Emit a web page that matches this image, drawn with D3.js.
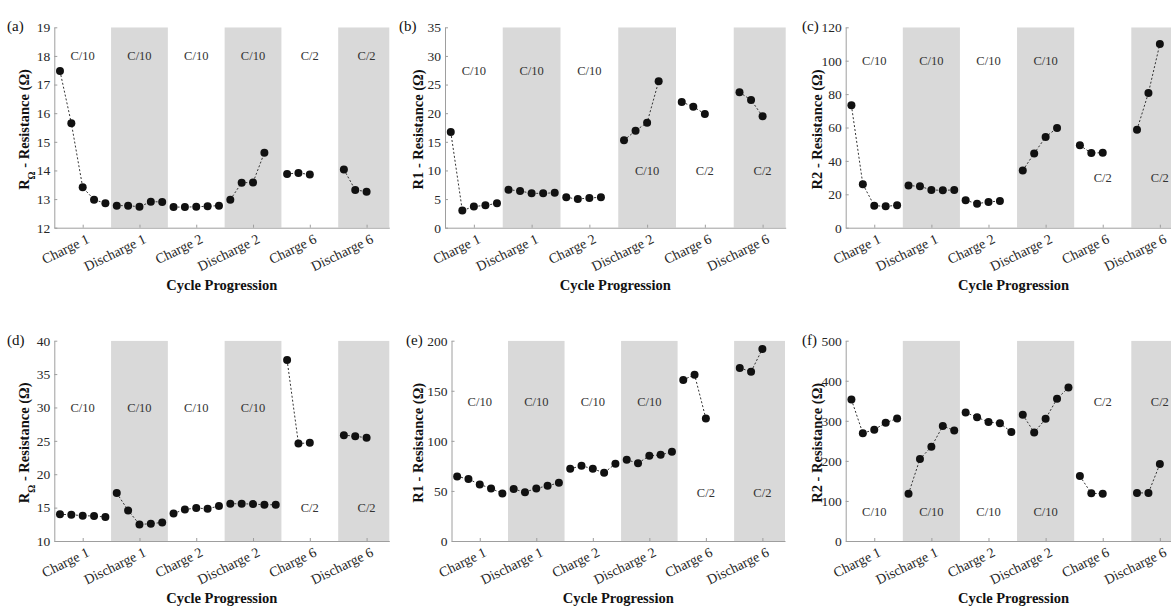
<!DOCTYPE html>
<html>
<head>
<meta charset="utf-8">
<script src="https://cdn.jsdelivr.net/npm/d3@7"></script>
<style>
  body { margin: 0; background: #fff; }
  svg { display: block; }
</style>
</head>
<body>
<script>
// categories along the x axis
const categories = ['Charge 1', 'Discharge 1', 'Charge 2', 'Discharge 2', 'Charge 6', 'Discharge 6'];
const rateLabels = ['C/10', 'C/10', 'C/10', 'C/10', 'C/2', 'C/2'];

// y tick values for each panel
const ticksA = [12, 13, 14, 15, 16, 17, 18, 19];
const ticksB = [0, 5, 10, 15, 20, 25, 30, 35];
const ticksC = [0, 20, 40, 60, 80, 100, 120];
const ticksD = [10, 15, 20, 25, 30, 35, 40];
const ticksE = [0, 50, 100, 150, 200];
const ticksF = [0, 100, 200, 300, 400, 500];

// resistance values, one list per cycle step
const valuesA = [
  [17.47, 15.65, 13.41, 12.98, 12.85],
  [12.77, 12.77, 12.73, 12.91, 12.90],
  [12.72, 12.72, 12.73, 12.75, 12.77],
  [12.98, 13.57, 13.58, 14.62],
  [13.88, 13.91, 13.86],
  [14.03, 13.32, 13.26]
];
const valuesB = [
  [16.7, 3.0, 3.7, 3.9, 4.25],
  [6.64, 6.41, 6.0, 6.0, 6.1],
  [5.3, 5.0, 5.2, 5.3],
  [15.26, 16.95, 18.35, 25.57],
  [21.96, 21.14, 19.86],
  [23.65, 22.3, 19.45]
];
const valuesC = [
  [73.3, 26, 13.2, 12.8, 13.4],
  [25.2, 24.8, 22.6, 22.4, 22.6],
  [16.4, 14.4, 15.4, 16.0],
  [34.3, 44.5, 54.3, 59.7],
  [49.3, 44.7, 44.9],
  [58.7, 80.7, 110]
];
const valuesD = [
  [13.99, 13.94, 13.79, 13.74, 13.59],
  [17.18, 14.58, 12.48, 12.59, 12.78],
  [14.13, 14.73, 14.93, 14.83, 15.23],
  [15.58, 15.58, 15.53, 15.43, 15.43],
  [37.1, 24.6, 24.7],
  [25.85, 25.7, 25.45]
];
const valuesE = [
  [64.5, 61.8, 56.5, 52.5, 47.5],
  [51.8, 48.8, 52.5, 55.1, 58.1],
  [72.1, 75.1, 72.1, 68.1, 77.1],
  [81.1, 77.7, 85.0, 86.0, 89.0],
  [160.8, 166.1, 122.3],
  [172.8, 169.1, 191.7]
];
const valuesF = [
  [353, 269, 278, 295, 306],
  [118, 205, 235, 287, 276],
  [321, 309, 297, 294, 272],
  [315, 271, 305, 355, 383],
  [162, 119, 118],
  [120, 120, 192]
];

// where the C-rate text sits, in data units
const rateYA = [18, 18, 18, 18, 18, 18];
const rateYB = [27.5, 27.5, 27.5, 10, 10, 10];
const rateYC = [100, 100, 100, 100, 30, 30];
const rateYD = [30, 30, 30, 30, 15, 15];
const rateYE = [139, 139, 139, 139, 48, 48];
const rateYF = [74, 74, 74, 74, 348, 348];

const width = 1171;
const height = 609;
const serif = '"Liberation Serif", "DejaVu Serif", "Noto Serif", "Times New Roman", Times, serif';
const tickColor = '#262626';
const axisColor = '#9e9e9e';
const bandColor = '#d9d9d9';

const svg = d3.select('body')
  .append('svg')
  .attr('width', width)
  .attr('height', height)
  .style('font-family', serif);
const defs = svg.append('defs');

const topRow = {t: 27.3, b: 227.7};
const botRow = {t: 340.7, b: 541};

const panels = [
  {tag: '(a)', tagX: 7,   values: valuesA, ticks: ticksA, rateY: rateYA, yName: 'omega', labelX: 24,  box: {l: 54.3,  r: 389.3, ...topRow}},
  {tag: '(b)', tagX: 399, values: valuesB, ticks: ticksB, rateY: rateYB, yName: 'R1',    labelX: 418, box: {l: 445,   r: 785.7, ...topRow}},
  {tag: '(c)', tagX: 802, values: valuesC, ticks: ticksC, rateY: rateYC, yName: 'R2',    labelX: 817, box: {l: 845.7, r: 1182.7, ...topRow}},
  {tag: '(d)', tagX: 7,   values: valuesD, ticks: ticksD, rateY: rateYD, yName: 'omega', labelX: 24,  box: {l: 54.3,  r: 389.3, ...botRow}},
  {tag: '(e)', tagX: 406, values: valuesE, ticks: ticksE, rateY: rateYE, yName: 'R1',    labelX: 418, box: {l: 451.5, r: 785,   ...botRow}},
  {tag: '(f)', tagX: 802, values: valuesF, ticks: ticksF, rateY: rateYF, yName: 'R2',    labelX: 817, box: {l: 845.7, r: 1182.7, ...botRow}}
];

panels.forEach((p, i) => drawPanel(p, i));

function drawPanel(p, idx) {
  const b = p.box;
  const x = d3.scaleLinear().domain([0.5, 6.4]).range([b.l, b.r]);
  const y = d3.scaleLinear().domain(d3.extent(p.ticks)).range([b.b, b.t]);
  const g = svg.append('g');

  defs.append('clipPath').attr('id', 'clip' + idx)
    .append('rect')
    .attr('x', b.l).attr('y', b.t)
    .attr('width', b.r - b.l).attr('height', b.b - b.t);

  // shaded discharge columns
  const shaded = categories.map((c, i) => c.startsWith('Discharge') ? i + 1 : null).filter(d => d !== null);
  g.append('g')
    .attr('clip-path', `url(#clip${idx})`)
    .selectAll('rect')
    .data(shaded)
    .join('rect')
    .attr('x', d => x(d - 0.5))
    .attr('width', d => x(d + 0.5) - x(d - 0.5))
    .attr('y', b.t)
    .attr('height', b.b - b.t)
    .attr('fill', bandColor);

  // x axis
  const xAxis = d3.axisBottom(x)
    .tickValues(d3.range(1, categories.length + 1))
    .tickFormat(d => categories[d - 1])
    .tickSizeInner(-3)
    .tickSizeOuter(0);
  const xg = g.append('g')
    .attr('transform', `translate(0,${b.b})`)
    .call(xAxis)
    .attr('font-family', null);
  xg.select('.domain').attr('stroke', axisColor);
  xg.selectAll('.tick line').attr('stroke', axisColor);
  xg.selectAll('.tick text')
    .attr('font-size', 14)
    .attr('fill', tickColor)
    .attr('text-anchor', 'end')
    .attr('x', 0).attr('y', 0)
    .attr('dy', '0.35em')
    .attr('transform', 'translate(5,10) rotate(-26)');

  // y axis
  const yAxis = d3.axisLeft(y)
    .tickValues(p.ticks)
    .tickFormat(d => d)
    .tickSizeInner(-3)
    .tickSizeOuter(0)
    .tickPadding(4);
  const yg = g.append('g')
    .attr('transform', `translate(${b.l},0)`)
    .call(yAxis)
    .attr('font-family', null);
  yg.select('.domain').attr('stroke', axisColor);
  yg.selectAll('.tick line').attr('stroke', axisColor);
  yg.selectAll('.tick text')
    .attr('font-size', 13.5)
    .attr('fill', tickColor);

  // dashed connectors inside each step, then the markers
  const px = (i, j) => x(i + 1 + (j - 2) * 0.2);
  p.values.forEach((vals, i) => {
    const line = d3.line()
      .x((v, j) => px(i, j))
      .y(v => y(v));
    g.append('path')
      .datum(vals)
      .attr('d', line)
      .attr('fill', 'none')
      .attr('stroke', '#333')
      .attr('stroke-width', 1)
      .attr('stroke-dasharray', '2,2');
    g.selectAll(null)
      .data(vals)
      .join('circle')
      .attr('cx', (v, j) => px(i, j))
      .attr('cy', v => y(v))
      .attr('r', 4)
      .attr('fill', '#111');
  });

  // C-rate labels
  g.selectAll(null)
    .data(rateLabels)
    .join('text')
    .attr('x', (d, i) => x(i + 1))
    .attr('y', (d, i) => y(p.rateY[i]))
    .attr('dy', '0.35em')
    .attr('text-anchor', 'middle')
    .attr('font-size', 12.5)
    .attr('fill', '#333')
    .text(d => d);

  // panel tag
  g.append('text')
    .attr('x', p.tagX)
    .attr('y', b.t + 4)
    .attr('font-size', 15)
    .attr('fill', '#111')
    .text(p.tag);

  // axis titles
  const visibleRight = Math.min(b.r, width + 11);
  g.append('text')
    .attr('x', (b.l + b.r) / 2 - (b.r - visibleRight))
    .attr('y', b.b + 62)
    .attr('text-anchor', 'middle')
    .attr('font-size', 14.5)
    .attr('font-weight', 'bold')
    .attr('fill', '#111')
    .text('Cycle Progression');

  const yl = g.append('text')
    .attr('transform', `translate(${p.labelX},${(b.t + b.b) / 2 + 2}) rotate(-90)`)
    .attr('text-anchor', 'middle')
    .attr('dy', '0.35em')
    .attr('font-size', 14.5)
    .attr('font-weight', 'bold')
    .attr('fill', '#111');
  if (p.yName === 'omega') {
    yl.append('tspan').text('R');
    yl.append('tspan').attr('baseline-shift', 'sub').attr('font-size', 10).text('Ω');
    yl.append('tspan').text(' - Resistance (Ω)');
  } else {
    yl.text(p.yName + ' - Resistance (Ω)');
  }
}
</script>
</body>
</html>
